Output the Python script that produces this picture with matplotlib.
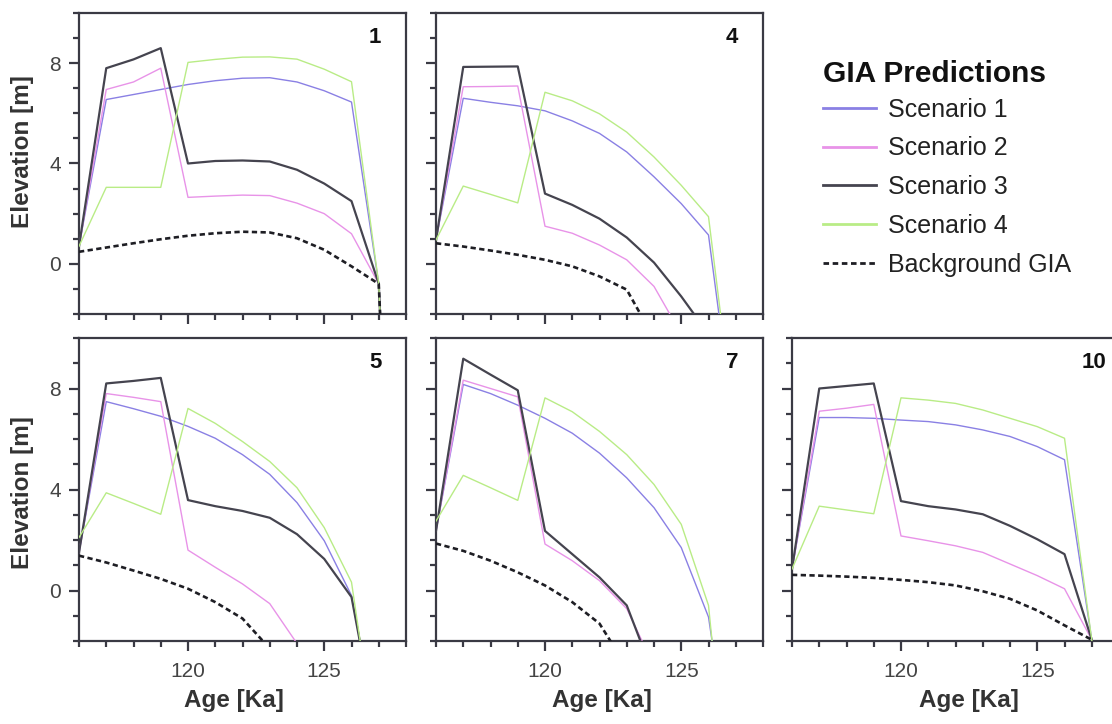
import matplotlib
matplotlib.use("Agg")
import matplotlib.pyplot as plt
from matplotlib.ticker import MultipleLocator, FixedLocator

plt.rcParams['font.family'] = ['Liberation Sans', 'DejaVu Sans']

# ---------------- data ----------------
ages = [116, 117, 118, 119, 120, 121, 122, 123, 124, 125, 126, 127, 128]

panel_ids = ["1", "4", "5", "7", "10"]

p1_s1 = [0.7, 6.55, 6.75, 6.95, 7.15, 7.3, 7.4, 7.42, 7.25, 6.9, 6.45, -0.8, -25]
p1_s2 = [0.7, 6.95, 7.25, 7.8, 2.65, 2.7, 2.74, 2.72, 2.42, 2.0, 1.2, -0.8, -25]
p1_s3 = [0.7, 7.8, 8.15, 8.6, 4.0, 4.1, 4.12, 4.08, 3.75, 3.2, 2.5, -0.8, -25]
p1_s4 = [0.7, 3.05, 3.05, 3.05, 8.03, 8.15, 8.24, 8.25, 8.16, 7.76, 7.26, -0.8, -25]
p1_bg = [0.48, 0.65, 0.82, 0.98, 1.12, 1.22, 1.28, 1.25, 1.02, 0.56, -0.1, -0.8, -25]

p4_s1 = [0.95, 6.6, 6.44, 6.3, 6.1, 5.7, 5.2, 4.46, 3.47, 2.4, 1.15, -7.1, -20]
p4_s2 = [0.95, 7.06, 7.07, 7.09, 1.5, 1.22, 0.75, 0.16, -0.9, -2.8, -6.0, -9.0, -20]
p4_s3 = [0.95, 7.85, 7.86, 7.87, 2.8, 2.35, 1.8, 1.05, 0.05, -1.3, -2.8, -7.0, -20]
p4_s4 = [0.95, 3.1, 2.77, 2.43, 6.84, 6.5, 5.98, 5.25, 4.26, 3.13, 1.88, -6.9, -20]
p4_bg = [0.82, 0.69, 0.53, 0.36, 0.16, -0.1, -0.5, -1.03, -2.97, -5.0, -7.0, -9.0, -20]

p5_s1 = [1.5, 7.48, 7.2, 6.9, 6.5, 6.03, 5.38, 4.6, 3.48, 1.97, -0.2, -6.0, -20]
p5_s2 = [1.5, 7.8, 7.65, 7.48, 1.6, 0.92, 0.26, -0.52, -2.1, -4.0, -6.0, -8.0, -20]
p5_s3 = [1.5, 8.2, 8.3, 8.42, 3.58, 3.34, 3.15, 2.88, 2.23, 1.25, -0.26, -6.0, -20]
p5_s4 = [2.1, 3.87, 3.45, 3.02, 7.21, 6.62, 5.9, 5.11, 4.07, 2.49, 0.33, -7.0, -20]
p5_bg = [1.38, 1.11, 0.79, 0.46, 0.07, -0.46, -1.11, -2.3, -4.0, -6.0, -8.0, -10.0, -20]

p7_s1 = [2.36, 8.16, 7.8, 7.34, 6.82, 6.23, 5.44, 4.46, 3.28, 1.7, -1.05, -8.3, -20]
p7_s2 = [2.36, 8.33, 8.0, 7.67, 1.84, 1.18, 0.39, -0.72, -3.0, -6.0, -8.0, -10.0, -20]
p7_s3 = [2.36, 9.18, 8.55, 7.93, 2.36, 1.44, 0.52, -0.59, -3.4, -6.0, -8.0, -10.0, -20]
p7_s4 = [2.75, 4.56, 4.07, 3.57, 7.63, 7.08, 6.3, 5.38, 4.2, 2.62, -0.59, -11.4, -20]
p7_bg = [1.86, 1.57, 1.18, 0.72, 0.2, -0.46, -1.31, -3.03, -5.0, -7.0, -9.0, -11.0, -20]

p10_s1 = [0.85, 6.85, 6.85, 6.82, 6.75, 6.69, 6.56, 6.36, 6.1, 5.7, 5.18, -1.95, -20]
p10_s2 = [0.85, 7.1, 7.22, 7.37, 2.16, 1.97, 1.77, 1.51, 1.05, 0.59, 0.07, -1.95, -20]
p10_s3 = [0.85, 8.0, 8.1, 8.2, 3.54, 3.34, 3.21, 3.02, 2.56, 2.03, 1.44, -1.95, -20]
p10_s4 = [0.85, 3.34, 3.19, 3.04, 7.63, 7.54, 7.41, 7.15, 6.82, 6.49, 6.03, -1.95, -20]
p10_bg = [0.62, 0.59, 0.55, 0.5, 0.42, 0.33, 0.2, -0.03, -0.33, -0.79, -1.38, -1.95, -20]

series_labels = ["Scenario 1", "Scenario 2", "Scenario 3", "Scenario 4", "Background GIA"]
x_ticklabels = ["120", "125"]
y_ticklabels = ["0", "4", "8"]

panels = {
    "1": [p1_s1, p1_s2, p1_s3, p1_s4, p1_bg],
    "4": [p4_s1, p4_s2, p4_s3, p4_s4, p4_bg],
    "5": [p5_s1, p5_s2, p5_s3, p5_s4, p5_bg],
    "7": [p7_s1, p7_s2, p7_s3, p7_s4, p7_bg],
    "10": [p10_s1, p10_s2, p10_s3, p10_s4, p10_bg],
}

# ---------------- style ----------------
colors = ["#8a80e4", "#e893e8", "#45444f", "#b9ec86", "#1e1e24"]
widths = [1.0, 1.0, 1.6, 1.0, 1.9]
styles = ["-", "-", "-", "-", (0, (2.0, 1.3))]
spine_c = "#3a3a44"
text_c = "#333333"

W, H = 1112, 724
fig = plt.figure(figsize=(W / 100, H / 100), dpi=100)
fig.patch.set_facecolor("white")

# axes boxes in pixel coords: (left, top, width, height)
boxes = {
    "1": (79, 13, 327, 301),
    "4": (436, 13, 327, 301),
    "5": (79, 338, 327, 303),
    "7": (436, 338, 327, 303),
    "10": (792, 338, 327, 303),
}
xlabel_x = {"5": 0.475, "7": 0.508, "10": 0.54}
ylabel_y = {"1": 0.54, "5": 0.49}

first_ax = None
for pid in panel_ids:
    l, t, w, h = boxes[pid]
    ax = fig.add_axes([l / W, 1 - (t + h) / H, w / W, h / H])
    for vals, c, lw, ls, lab in zip(panels[pid], colors, widths, styles, series_labels):
        ax.plot(ages, vals, color=c, lw=lw, linestyle=ls, label=lab, zorder=3)
    ax.set_xlim(116, 128)
    ax.set_ylim(-2, 10)
    ax.xaxis.set_major_locator(FixedLocator([120, 125]))
    ax.xaxis.set_minor_locator(MultipleLocator(1))
    ax.yaxis.set_major_locator(FixedLocator([0, 4, 8]))
    ax.yaxis.set_minor_locator(MultipleLocator(1))
    for sp in ax.spines.values():
        sp.set_color(spine_c)
        sp.set_linewidth(1.6)
    ax.tick_params(which="major", direction="out", length=7, width=1.6, color=spine_c,
                   labelsize=15, labelcolor="#444444", pad=6)
    ax.tick_params(which="minor", direction="out", length=4.5, width=1.6, color=spine_c)
    ax.tick_params(axis="x", pad=8)
    if pid in ("5", "7", "10"):
        ax.set_xticklabels(x_ticklabels)
        ax.set_xlabel("Age [Ka]", fontsize=17.5, fontweight="bold", color=text_c)
        ax.xaxis.set_label_coords(xlabel_x[pid], -0.16)
    else:
        ax.tick_params(axis="x", labelbottom=False)
    if pid in ("1", "5"):
        ax.set_yticklabels(y_ticklabels)
        ax.set_ylabel("Elevation [m]", fontsize=17.5, fontweight="bold", color=text_c)
        ax.yaxis.set_label_coords(-0.138, ylabel_y[pid])
    else:
        ax.tick_params(axis="y", labelleft=False)
    ax.text(0.887, 0.92, pid, transform=ax.transAxes, ha="left", va="center",
            fontsize=16, fontweight="bold", color="#111111")
    if first_ax is None:
        first_ax = ax

handles, labels = first_ax.get_legend_handles_labels()
leg = fig.legend(handles, labels, loc="upper left", bbox_to_anchor=(823 / W, 1 - 60 / H),
                 frameon=False, fontsize=18, title="GIA Predictions",
                 title_fontproperties={"weight": "bold", "size": 21.5},
                 alignment="left", handlelength=2.1, handletextpad=0.5,
                 labelspacing=0.59, borderpad=0, borderaxespad=0)
try:
    leg._legend_box.sep = 7.0
except Exception:
    pass
for txt in leg.get_texts():
    txt.set_color("#222222")
leg.get_title().set_color("#111111")
for lh in leg.get_lines():
    lh.set_linewidth(2.0)

fig.savefig("out.png", dpi=100, facecolor="white")
